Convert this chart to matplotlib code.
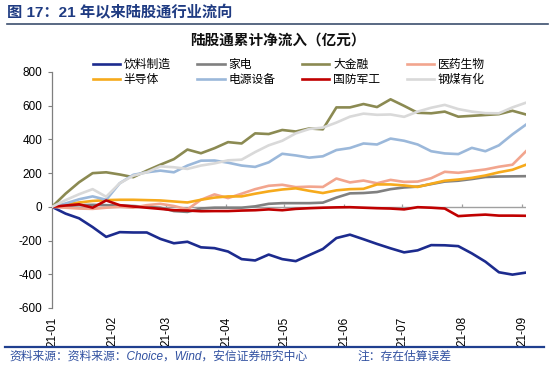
import pandas as pd
import matplotlib
matplotlib.use("Agg")
import matplotlib.pyplot as plt
from matplotlib.lines import Line2D

plt.rcParams['font.family'] = ['Liberation Sans', 'Noto Sans CJK SC']
plt.rcParams['axes.unicode_minus'] = False

# weekly cumulative net inflow via Stock Connect (100m CNY)
dates = pd.date_range('2021-01-01', periods=36, freq='7D')

beverage = [0, -40, -68, -120, -178, -150, -152, -152, -190, -216,
            -207, -240, -245, -265, -310, -318, -283, -310, -322, -286,
            -250, -185, -165, -192, -220, -246, -270, -258, -227, -228,
            -233, -276, -325, -388, -402, -390]
appliance = [0, 5, 10, 12, 10, 8, 5, 0, -5, -25,
             -30, -10, -5, -5, -5, 3, 18, 22, 22, 22,
             25, 55, 80, 82, 88, 105, 115, 120, 135, 150,
             155, 165, 177, 180, 181, 182]
finance = [0, 78, 146, 200, 205, 192, 176, 215, 250, 283,
           340, 318, 348, 384, 376, 436, 432, 456, 447, 465,
           460, 590, 590, 610, 592, 638, 599, 558, 555, 565,
           535, 540, 545, 550, 570, 548]
pharma = [0, -5, -10, -12, -5, 0, -5, 10, 18, 5,
          -15, 42, 74, 52, 78, 105, 125, 131, 117, 120,
          118, 168, 145, 156, 140, 160, 148, 150, 170, 208,
          202, 212, 222, 238, 250, 330]
semis = [0, 15, 26, 35, 40, 42, 42, 40, 38, 32,
         26, 42, 55, 62, 62, 78, 92, 103, 110, 95,
         82, 98, 105, 107, 133, 133, 127, 118, 137, 155,
         162, 172, 186, 205, 220, 250]
power = [0, 20, 45, 62, 42, 140, 190, 205, 215, 205,
         245, 274, 275, 262, 245, 237, 264, 315, 305, 292,
         300, 337, 349, 376, 370, 405, 392, 370, 330, 317,
         313, 350, 330, 365, 430, 488]
defense = [0, 8, 15, -5, 38, 10, 2, -5, -12, -20,
           -22, -26, -25, -25, -22, -20, -15, -20, -12, -8,
           -5, -3, -2, -5, -8, -10, -15, -2, -5, -10,
           -55, -50, -46, -52, -52, -53]
steel = [0, 40, 75, 105, 60, 140, 185, 205, 240, 235,
         225, 245, 258, 276, 280, 325, 365, 392, 436, 462,
         470, 500, 535, 553, 546, 548, 534, 565, 588, 605,
         580, 565, 556, 555, 590, 618]

names = ['饮料制造', '家电', '大金融', '医药生物', '半导体', '电源设备', '国防军工', '钢煤有化']
series = [beverage, appliance, finance, pharma, semis, power, defense, steel]
colors = ['#1C2B8E', '#808080', '#8B8A52', '#F2A58E', '#F6AA1C', '#9BB8DA', '#C00000', '#D9D9D9']

month_ticks = pd.date_range('2021-01-01', '2021-09-01', freq='MS')
month_labels = [d.strftime('%y-%m') for d in month_ticks]

fig = plt.figure(figsize=(5.5, 3.7), dpi=100)
ax = fig.add_axes([52 / 550, 62 / 370, 474 / 550, 236 / 370])

ax.axhline(0, color='#A0A0A0', lw=1.0, zorder=1)
ax.vlines(month_ticks, 0, 18, color='#A0A0A0', lw=0.9, zorder=1)

handles = []
for name, vals, c in zip(names, series, colors):
    h, = ax.plot(dates, vals, color=c, lw=1.9, label=name, zorder=3)
    handles.append(h)

ax.set_xlim(dates[0], dates[-1])
ax.set_ylim(-600, 800)
ax.set_yticks(range(-600, 801, 200))
ax.set_xticks(month_ticks)
ax.set_xticklabels(month_labels, rotation=90)

for s in ['top', 'right', 'bottom']:
    ax.spines[s].set_visible(False)
ax.spines['left'].set_color('#7F7F7F')
ax.spines['left'].set_linewidth(0.9)
ax.tick_params(axis='y', direction='out', length=3, color='#7F7F7F', labelsize=8.5, pad=4)
ax.tick_params(axis='x', length=0, labelsize=8.5, pad=6)

order = [0, 4, 1, 5, 2, 6, 3, 7]
fig.legend([handles[i] for i in order], [names[i] for i in order],
           loc='upper center', bbox_to_anchor=(0.525, 1 - 52 / 370), ncol=4,
           frameon=False, fontsize=8.5, handlelength=2.3, handletextpad=0.3,
           columnspacing=2.3, labelspacing=0.25, borderpad=0.1)

fig.text(278 / 550, 1 - 41 / 370, '陆股通累计净流入（亿元）', ha='center', va='center',
         fontsize=10.5, fontweight='bold', color='#111111')

fig.text(7 / 550, 1 - 13 / 370, '图 17：21 年以来陆股通行业流向', ha='left', va='center',
         fontsize=11, fontweight='bold', color='#1F3B82')
fig.add_artist(Line2D([7 / 550, 548 / 550], [1 - 23.5 / 370] * 2, color='#3C4F6E', lw=1.2))

fig.add_artist(Line2D([5 / 550, 544 / 550], [1 - 347 / 370] * 2, color='#1F3F8F', lw=1.6))
fig.text(9 / 550, 1 - 357 / 370, '资料来源：资料来源：Choice，Wind，安信证券研究中心', ha='left',
         va='center', fontsize=8.5, style='italic', color='#3050A0')
fig.text(357 / 550, 1 - 357 / 370, '注：存在估算误差', ha='left', va='center',
         fontsize=8.5, style='italic', color='#3050A0')

fig.savefig('out.png', dpi=100)
